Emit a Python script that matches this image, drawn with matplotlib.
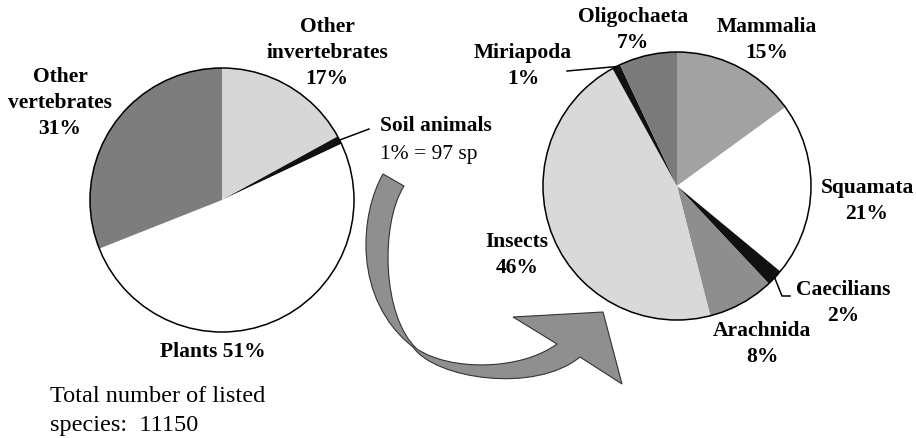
import numpy as np
import matplotlib.pyplot as plt
from matplotlib.patches import Circle, PathPatch
from matplotlib.path import Path

W, H = 916, 439

# left pie: all listed species
all_groups = ['Other\ninvertebrates', 'Soil animals', 'Plants', 'Other\nvertebrates']
all_share = [17, 1, 51, 31]
all_colors = ['#d7d7d7', '#111111', '#ffffff', '#7d7d7d']
soil_species = 97
total_species = 11150

# right pie: soil animals split by group
soil_groups = ['Mammalia', 'Squamata', 'Caecilians', 'Arachnida', 'Insects', 'Miriapoda', 'Oligochaeta']
soil_share = [15, 21, 2, 8, 46, 1, 7]
soil_colors = ['#a2a2a2', '#ffffff', '#111111', '#8e8e8e', '#d9d9d9', '#111111', '#7a7a7a']

plt.rcParams['font.family'] = ['Liberation Serif', 'DejaVu Serif']

fig = plt.figure(figsize=(W / 100, H / 100), dpi=100)
ax = fig.add_axes([0, 0, 1, 1])


def fy(y):
    # layout measured from the top of the picture
    return H - y


def edge_point(center, r, shares, i):
    mid = 90 - 360 * (sum(shares[:i]) + shares[i] / 2) / sum(shares)
    a = np.radians(mid)
    return center[0] + r * np.cos(a), center[1] + r * np.sin(a)


left_c, left_r = (222, fy(201)), 132
right_c, right_r = (677, fy(187)), 134

ax.pie(all_share, colors=all_colors, startangle=90, counterclock=False,
       center=left_c, radius=left_r, wedgeprops=dict(linewidth=0))
ax.pie(soil_share, colors=soil_colors, startangle=90, counterclock=False,
       center=right_c, radius=right_r, wedgeprops=dict(linewidth=0))
for c, r in [(left_c, left_r), (right_c, right_r)]:
    ax.add_patch(Circle(c, r, fill=False, ec='black', lw=1.1, zorder=3))

FS = 15.5
bold = dict(fontsize=FS, fontweight='bold', ha='center', va='center', linespacing=1.4)

# left labels
ax.text(327, fy(53), f'{all_groups[0]}\n{all_share[0]}%', **bold)
ax.text(60, fy(103), f'{all_groups[3]}\n{all_share[3]}%', **bold)
ax.text(213, fy(352), f'{all_groups[2]} {all_share[2]}%', **bold)
ax.text(380, fy(126), all_groups[1], fontsize=FS, fontweight='bold', ha='left', va='center')
ax.text(380, fy(154), f'{all_share[1]}% = {soil_species} sp', fontsize=FS, ha='left', va='center')
ex, ey = edge_point(left_c, left_r, all_share, 1)
ax.plot([ex, 369], [ey, fy(130)], color='black', lw=1.1)

ax.text(50, fy(411), f'Total number of listed\nspecies:  {total_species}', fontsize=17.5,
        ha='left', va='center', linespacing=1.45)

# right labels
right_pos = {
    'Mammalia': (767, 40), 'Squamata': (867, 201), 'Caecilians': (843, 303),
    'Arachnida': (762, 344), 'Insects': (517, 255), 'Miriapoda': (523, 66),
    'Oligochaeta': (633, 30),
}
for name, share in zip(soil_groups, soil_share):
    x, y = right_pos[name]
    ax.text(x, fy(y), f'{name}\n{share}%', **bold)

mx, my = edge_point(right_c, right_r, soil_share, soil_groups.index('Miriapoda'))
ax.plot([567, mx], [fy(72), my], color='black', lw=1.1)
cx, cy = edge_point(right_c, right_r, soil_share, soil_groups.index('Caecilians'))
ax.plot([cx, 782, 790], [cy, fy(297), fy(297)], color='black', lw=1.1)

# curved arrow from the soil slice to the detail pie
arrow_pts = [
    (Path.MOVETO, (383, 175)),
    (Path.CURVE4, (360, 215)), (Path.CURVE4, (352, 300)), (Path.CURVE4, (413, 348)),
    (Path.CURVE4, (435, 380)), (Path.CURVE4, (535, 395)), (Path.CURVE4, (580, 358)),
    (Path.LINETO, (622, 385)),
    (Path.LINETO, (603, 313)),
    (Path.LINETO, (513, 318)),
    (Path.LINETO, (557, 345)),
    (Path.CURVE4, (520, 372)), (Path.CURVE4, (450, 372)), (Path.CURVE4, (417, 350)),
    (Path.CURVE4, (382, 318)), (Path.CURVE4, (380, 225)), (Path.CURVE4, (404, 187)),
    (Path.CLOSEPOLY, (383, 175)),
]
codes = [c for c, _ in arrow_pts]
verts = [(x, fy(y)) for _, (x, y) in arrow_pts]
ax.add_patch(PathPatch(Path(verts, codes), fc='#8f8f8f', ec='#333333', lw=0.8, zorder=2))

ax.set_xlim(0, W)
ax.set_ylim(0, H)
ax.set_aspect('equal')
ax.axis('off')

fig.savefig('out.png', dpi=100)
